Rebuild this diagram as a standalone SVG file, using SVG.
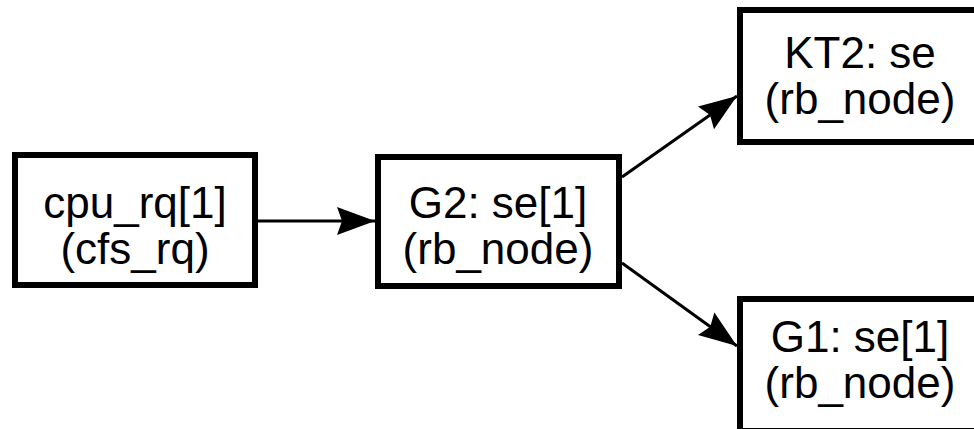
<svg xmlns="http://www.w3.org/2000/svg" width="974" height="429" viewBox="0 0 974 429">
  <style>
    .box { fill: #ffffff; stroke: #000000; stroke-width: 6; }
    .lbl { font-family: "Liberation Sans", Arial, sans-serif; font-size: 44px; fill: #000000; text-anchor: middle; }
    .edge { fill: none; stroke: #000000; stroke-width: 3; }
  </style>
  <defs>
    <marker id="arrow" markerUnits="userSpaceOnUse" markerWidth="40" markerHeight="30" refX="38" refY="14" orient="auto" viewBox="0 0 40 30">
      <path d="M0,0 L38,14 L0,28 L5,14 Z" fill="#000000"/>
    </marker>
  </defs>

  <rect width="974" height="429" fill="#ffffff"/>

  <!-- connectors -->
  <g id="edges">
    <line class="edge" x1="258" y1="221" x2="375" y2="221" marker-end="url(#arrow)"/>
    <line class="edge" x1="622" y1="177" x2="737" y2="96" marker-end="url(#arrow)"/>
    <line class="edge" x1="622" y1="263" x2="737" y2="346" marker-end="url(#arrow)"/>
  </g>

  <!-- nodes -->
  <g id="cpu_rq">
    <rect class="box" x="15" y="155" width="240" height="130"/>
    <text class="lbl" x="135" y="218">cpu_rq[1]</text>
    <text class="lbl" x="135" y="264">(cfs_rq)</text>
  </g>

  <g id="g2_se">
    <rect class="box" x="378" y="157" width="241" height="129"/>
    <text class="lbl" x="498" y="218">G2: se[1]</text>
    <text class="lbl" x="498" y="264">(rb_node)</text>
  </g>

  <g id="kt2_se">
    <rect class="box" x="740" y="10" width="241" height="132"/>
    <text class="lbl" x="860" y="68">KT2: se</text>
    <text class="lbl" x="860" y="114">(rb_node)</text>
  </g>

  <g id="g1_se">
    <rect class="box" x="740" y="299" width="241" height="132"/>
    <text class="lbl" x="860" y="352">G1: se[1]</text>
    <text class="lbl" x="860" y="398">(rb_node)</text>
  </g>
</svg>
